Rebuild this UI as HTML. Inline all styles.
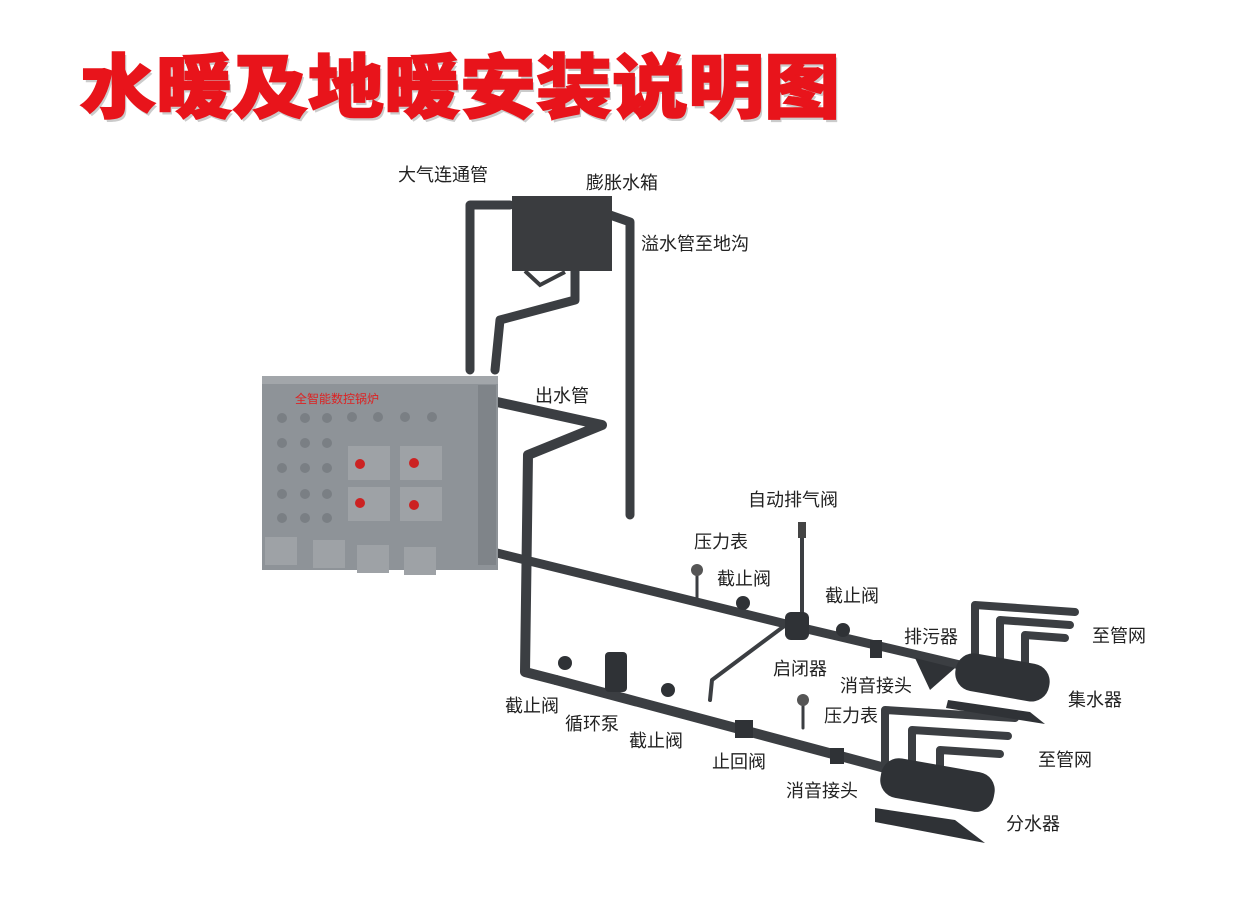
<!DOCTYPE html>
<html><head><meta charset="utf-8"><style>
html,body{margin:0;padding:0;background:#fff;}
svg{display:block}
.l{font-family:"Liberation Sans","Noto Sans CJK SC",sans-serif;font-size:18px;fill:#222}
</style></head><body>
<svg width="1250" height="914" viewBox="0 0 1250 914" xmlns="http://www.w3.org/2000/svg">
<text x="82" y="115" textLength="760" lengthAdjust="spacingAndGlyphs" font-family="'Liberation Sans','Noto Sans CJK SC',sans-serif" font-weight="900" font-size="70" fill="#999" opacity="0.5">水暖及地暖安装说明图</text>
<text x="80" y="112" textLength="760" lengthAdjust="spacingAndGlyphs" font-family="'Liberation Sans','Noto Sans CJK SC',sans-serif" font-weight="900" font-size="70" fill="#e8141b" stroke="#e8141b" stroke-width="1.5">水暖及地暖安装说明图</text>

<g fill="none" stroke="#3b3e42" stroke-linecap="round" stroke-linejoin="round">
<path d="M470 370 L470 205 L510 205" stroke-width="9"/>
<path d="M575 265 L575 300 L500 320 L495 370" stroke-width="9"/>
<path d="M610 215 L630 222 L630 515" stroke-width="9"/>
<path d="M497 402 L602 425 L528 455 L525 672 L556 680" stroke-width="10"/>
<path d="M497 553 L790 625 L960 665" stroke-width="9"/>
<path d="M556 680 L900 772" stroke-width="10"/>
<path d="M795 618 L712 680 L710 700" stroke-width="4"/>
<path d="M802 625 L802 535" stroke-width="4"/>
<path d="M697 598 L697 575" stroke-width="3"/>
<path d="M803 728 L803 705" stroke-width="3"/>
<path d="M975 665 L975 605 L1075 612" stroke-width="8"/>
<path d="M1000 665 L1000 620 L1070 625" stroke-width="8"/>
<path d="M1025 670 L1025 635 L1065 638" stroke-width="8"/>
<path d="M885 765 L885 710 L1015 718" stroke-width="8"/>
<path d="M912 770 L912 730 L1008 736" stroke-width="8"/>
<path d="M940 775 L940 750 L1000 754" stroke-width="8"/>
</g>
<circle cx="697" cy="570" r="6" fill="#555"/>
<circle cx="803" cy="700" r="6" fill="#555"/>
<rect x="798" y="522" width="8" height="16" fill="#444"/>
<rect x="512" y="196" width="100" height="75" fill="#3a3c3f"/>
<path d="M525 271 L540 285 L565 272" stroke="#3a3c3f" stroke-width="4" fill="none"/>
<rect x="262" y="376" width="236" height="194" fill="#8e9398"/>
<rect x="262" y="376" width="236" height="8" fill="#a2a6aa"/>
<rect x="478" y="385" width="18" height="180" fill="#7f8489"/>
<text x="295" y="403" font-family="'Liberation Sans','Noto Sans CJK SC',sans-serif" font-size="12" fill="#d22">全智能数控锅炉</text>
<g fill="#9ea2a6">
<rect x="348" y="446" width="42" height="34"/><rect x="400" y="446" width="42" height="34"/>
<rect x="348" y="487" width="42" height="34"/><rect x="400" y="487" width="42" height="34"/>
<rect x="265" y="537" width="32" height="28"/><rect x="313" y="540" width="32" height="28"/>
<rect x="357" y="545" width="32" height="28"/><rect x="404" y="547" width="32" height="28"/>
</g>
<g fill="#c22"><circle cx="360" cy="464" r="5"/><circle cx="414" cy="463" r="5"/><circle cx="360" cy="503" r="5"/><circle cx="414" cy="505" r="5"/></g>
<g fill="#7a7f84">
<circle cx="282" cy="418" r="5"/><circle cx="305" cy="418" r="5"/><circle cx="327" cy="418" r="5"/><circle cx="352" cy="417" r="5"/><circle cx="378" cy="417" r="5"/><circle cx="405" cy="417" r="5"/><circle cx="432" cy="417" r="5"/>
<circle cx="282" cy="443" r="5"/><circle cx="305" cy="443" r="5"/><circle cx="327" cy="443" r="5"/>
<circle cx="282" cy="468" r="5"/><circle cx="305" cy="468" r="5"/><circle cx="327" cy="468" r="5"/>
<circle cx="282" cy="494" r="5"/><circle cx="305" cy="494" r="5"/><circle cx="327" cy="494" r="5"/>
<circle cx="282" cy="518" r="5"/><circle cx="305" cy="518" r="5"/><circle cx="327" cy="518" r="5"/>
</g>
<g fill="#2f3236">
<rect x="605" y="652" width="22" height="40" rx="4"/>
<circle cx="565" cy="663" r="7"/><circle cx="668" cy="690" r="7"/><circle cx="743" cy="603" r="7"/><circle cx="843" cy="630" r="7"/>
<rect x="785" y="612" width="24" height="28" rx="6"/>
<rect x="735" y="720" width="18" height="18"/>
<rect x="830" y="748" width="14" height="16"/>
<rect x="870" y="640" width="12" height="18"/>
<path d="M915 658 L955 668 L930 690 Z"/>
<rect x="955" y="658" width="95" height="38" rx="18" transform="rotate(10 1000 677)"/>
<rect x="880" y="765" width="115" height="40" rx="18" transform="rotate(10 937 785)"/>
<path d="M948 700 L1030 712 L1045 724 L946 708 Z"/>
<path d="M875 808 L955 820 L985 843 L875 822 Z"/>
</g>
<g class="l">
<text x="398" y="181">大气连通管</text>
<text x="586" y="189">膨胀水箱</text>
<text x="641" y="250">溢水管至地沟</text>
<text x="535" y="402">出水管</text>
<text x="748" y="506">自动排气阀</text>
<text x="694" y="548">压力表</text>
<text x="717" y="585">截止阀</text>
<text x="825" y="602">截止阀</text>
<text x="904" y="643">排污器</text>
<text x="1092" y="642">至管网</text>
<text x="773" y="675">启闭器</text>
<text x="840" y="692">消音接头</text>
<text x="1068" y="706">集水器</text>
<text x="505" y="712">截止阀</text>
<text x="824" y="722">压力表</text>
<text x="565" y="730">循环泵</text>
<text x="629" y="747">截止阀</text>
<text x="1038" y="766">至管网</text>
<text x="712" y="768">止回阀</text>
<text x="786" y="797">消音接头</text>
<text x="1006" y="830">分水器</text>
</g>
</svg>
</body></html>
